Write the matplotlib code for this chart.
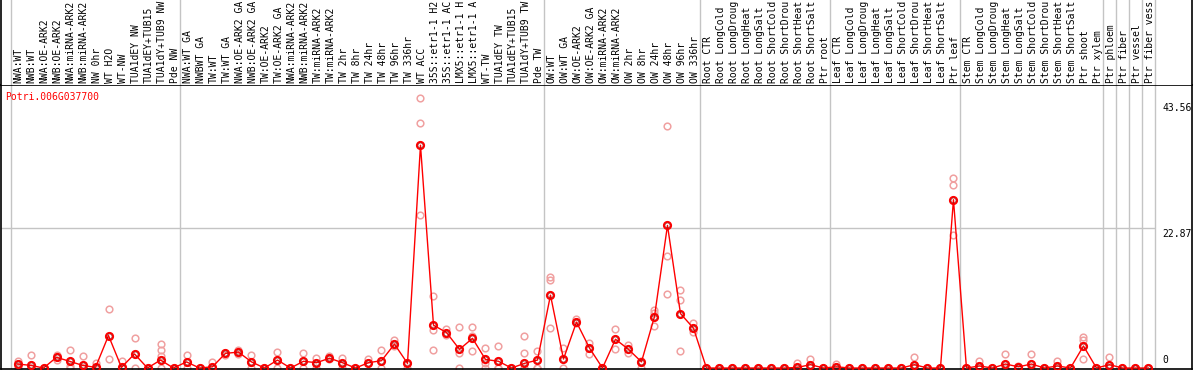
import matplotlib.pyplot as plt

# column labels, grouped as in the reference
grp_nw = ['NWA:WT', 'NWB:WT', 'NWA:OE-ARK2', 'NWB:OE-ARK2', 'NWA:miRNA-ARK2', 'NWB:miRNA-ARK2',
          'NW 0hr', 'WT H2O', 'WT-NW', 'TUA1dEY NW', 'TUA1dEY+TUB15', 'TUA1dY+TUB9 NW', 'Pde NW']
grp_tw = ['NWA:WT GA', 'NWBWT GA', 'TW:WT', 'TW:WT GA', 'NWA:OE-ARK2 GA', 'NWB:OE-ARK2 GA',
          'TW:OE-ARK2', 'TW:OE-ARK2 GA', 'NWA:miRNA-ARK2', 'NWB:miRNA-ARK2', 'TW:miRNA-ARK2',
          'TW:miRNA-ARK2', 'TW 2hr', 'TW 8hr', 'TW 24hr', 'TW 48hr', 'TW 96hr', 'TW 336hr',
          'WT ACC', '35S::etr1-1 H2', '35S::etr1-1 AC', 'LMX5::etr1-1 H', 'LMX5::etr1-1 A',
          'WT-TW', 'TUA1dEY TW', 'TUA1dEY+TUB15', 'TUA1dY+TUB9 TW', 'Pde TW']
grp_ow = ['OW:WT', 'OW:WT GA', 'OW:OE-ARK2', 'OW:OE-ARK2 GA', 'OW:miRNA-ARK2', 'OW:miRNA-ARK2',
          'OW 2hr', 'OW 8hr', 'OW 24hr', 'OW 48hr', 'OW 96hr', 'OW 336hr']
grp_root = ['Root CTR', 'Root LongCold', 'Root LongDroug', 'Root LongHeat', 'Root LongSalt',
            'Root ShortCold', 'Root ShortDrou', 'Root ShortHeat', 'Root ShortSalt', 'Ptr root']
grp_leaf = ['Leaf CTR', 'Leaf LongCold', 'Leaf LongDroug', 'Leaf LongHeat', 'Leaf LongSalt',
            'Leaf ShortCold', 'Leaf ShortDrou', 'Leaf ShortHeat', 'Leaf ShortSalt', 'Ptr leaf']
grp_stem = ['Stem CTR', 'Stem LongCold', 'Stem LongDroug', 'Stem LongHeat', 'Stem LongSalt',
            'Stem ShortCold', 'Stem ShortDrou', 'Stem ShortHeat', 'Stem ShortSalt', 'Ptr shoot',
            'Ptr xylem']
groups = [grp_nw, grp_tw, grp_ow, grp_root, grp_leaf, grp_stem, ['Ptr phloem'], ['Ptr fiber'],
          ['Ptr vessel'], ['Ptr fiber vess']]

gene = 'Potri.006G037700'
y_ticks = [0, 22.87, 43.56]

# mean expression per column
means = [0.65, 0.44, 0, 1.75, 1.1, 0.44, 0.1, 5.3, 0.1, 2.3, 0, 1.3, 0,
         1.0, 0, 0.2, 2.4, 2.6, 1.0, 0, 1.3, 0, 1.1, 0.87, 1.6, 0.87, 0, 0.87, 1.2, 3.9, 0.76,
         36.4, 7.0, 5.8, 3.05, 4.85, 1.4, 1.1, 0, 0.76, 1.3,
         11.9, 1.47, 7.5, 3.27, 0, 4.7, 3.05, 1.0, 8.4, 23.3, 8.9, 6.5,
         0, 0, 0, 0, 0, 0, 0, 0.1, 0.55, 0,
         0.2, 0, 0, 0, 0, 0, 0.55, 0, 0, 27.5,
         0, 0.33, 0, 0.65, 0.2, 0.65, 0, 0.33, 0, 3.6, 0,
         0.55, 0, 0, 0]

# replicate values per column
reps = [[1.2, 0.3, 0], [2.2, 0, 0], [0, 0], [2.2, 1.3, 1.8], [2.9, 0.4, 0], [1.96, 0, 0],
        [0.87, 0], [9.6, 1.4], [1.2, 0], [4.9, 0], [0, 0], [4.0, 2.9, 2.0, 0], [0, 0],
        [2.2, 0], [0, 0], [1.0, 0], [2.5, 2.2], [2.9, 2.3], [2.2, 0], [0, 0], [2.6, 0], [0, 0],
        [2.5, 0], [1.7, 0], [1.9, 1.5], [1.6, 0], [0, 0], [1.5, 0.9], [2.9, 0], [4.5, 3.6],
        [0.9, 0], [44.1, 40.1, 25.0], [11.8, 6.2, 3.0], [6.4, 5.6, 5.4], [6.75, 2.4, 0],
        [6.75, 5.2, 2.8], [3.3, 0.9, 0], [3.6, 0, 0], [0, 0], [5.2, 2.5, 0], [2.8, 0, 0],
        [14.9, 14.4, 6.5], [3.2, 0], [8.0, 7.3], [4.1, 2.3], [0, 0], [6.3, 3.05], [3.7, 2.5],
        [1.1, 0], [9.4, 9.0, 6.9], [39.5, 18.25, 12.1], [12.7, 11.1, 2.8], [7.4, 5.9],
        [0, 0], [0, 0], [0, 0], [0, 0], [0, 0], [0, 0], [0, 0], [0.75, 0], [1.5, 0.2], [0, 0],
        [0.6, 0], [0, 0], [0, 0], [0, 0], [0, 0], [0, 0], [1.85, 0], [0, 0], [0, 0],
        [31.0, 29.9, 21.7],
        [0, 0], [1.2, 0], [0, 0], [2.3, 0], [0.4, 0], [2.3, 0], [0, 0], [1.1, 0], [0, 0],
        [5.0, 4.6, 1.4], [0, 0],
        [1.85, 0], [0, 0], [0, 0], [0, 0]]

labels = [lab for g in groups for lab in g]
x = list(range(len(labels)))

W, H = 1194, 370
fig = plt.figure(figsize=(W / 100, H / 100), dpi=100)


def px_axes(x0, y0, x1, y1):
    # box given in pixels, origin top-left
    return fig.add_axes([x0 / W, 1 - y1 / H, (x1 - x0) / W, (y1 - y0) / H])


ax = px_axes(1, 85, 1192, 369)
hd = px_axes(1, 0, 1192, 85)

xlim = (-1.27, 90.35)
for a in (ax, hd):
    a.set_xlim(*xlim)
    a.set_xticks([])
    a.set_yticks([])
    for s in a.spines.values():
        s.set_color('black')
        s.set_linewidth(1.2)
hd.spines['bottom'].set_visible(False)
hd.spines['top'].set_visible(False)
hd.set_ylim(0, 1)
ax.set_ylim(-0.16, 46.24)

# group separators
bounds = [0]
for g in groups:
    bounds.append(bounds[-1] + len(g))
for b in bounds:
    ax.axvline(b - 0.5, color='#c4c4c4', lw=1, zorder=0)
    hd.axvline(b - 0.5, color='#c4c4c4', lw=1, zorder=0)
ax.hlines(y_ticks[1], xlim[0], bounds[-1] - 0.5, color='#c4c4c4', lw=1, zorder=0)

mono = 'DejaVu Sans Mono'
for i, lab in enumerate(labels):
    hd.text(i + 0.1, 0.025, lab, rotation=90, ha='center', va='bottom',
            fontsize=7, family=mono)

# replicates
for i, r in enumerate(reps):
    ax.plot([i] * len(r), r, 'o', mfc='none', mec='#f0a0a0', ms=4.8, mew=1.1, zorder=2)

# mean line
ax.plot(x, means, color='red', lw=1, zorder=3)
ax.plot(x, means, 'o', mfc='none', mec='red', ms=5.2, mew=1.4, zorder=4)
ax.plot(x, means, 'o', mfc='none', mec='#900000', ms=3.6, mew=0.5, alpha=0.8, zorder=5)

ax.text(-0.96, 45.1, gene, color='red', fontsize=7, family=mono, va='top', ha='left')

tx = 88.05
ax.annotate('%.2f' % y_ticks[2], (tx, y_ticks[2]), xytext=(0, -1), textcoords='offset points',
            fontsize=7, family=mono, va='top', ha='left')
ax.annotate('%.2f' % y_ticks[1], (tx, y_ticks[1]), xytext=(0, -1), textcoords='offset points',
            fontsize=7, family=mono, va='top', ha='left')
ax.annotate('%d' % y_ticks[0], (tx, y_ticks[0]), xytext=(0, 2), textcoords='offset points',
            fontsize=7, family=mono, va='bottom', ha='left')

fig.savefig('out.png', dpi=100)
